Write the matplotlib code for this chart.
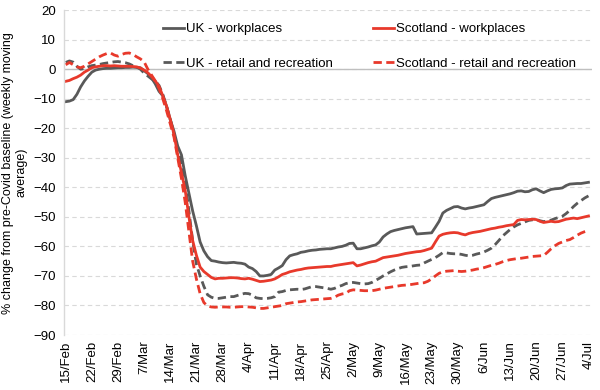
import numpy as np
import matplotlib
matplotlib.use("Agg")
import matplotlib.pyplot as plt
import pandas as pd

plt.rcParams['font.family'] = ['Liberation Sans', 'DejaVu Sans']

dates = pd.date_range('2020-02-15', '2020-07-04', freq='D')

uk_work = [-11, -10.8, -10.3, -8.5, -6, -4, -2.4, -1, -0.3, 0, 0.2, 0.3, 0.3, 0.4, 0.5, 0.5, 0.6, 0.6, 0.7, 0.6,
           0.5, -0.5, -1.5, -3, -5, -7.5, -9, -12.5, -17, -21, -26, -29, -36, -42, -48, -53, -58.5, -61.5, -63.5, -64.8,
           -65, -65.3, -65.5, -65.6, -65.5, -65.4, -65.6, -65.7, -66, -67, -67.5, -68.5, -70, -70, -69.8, -69.5, -68, -67.3, -66.5, -64.5,
           -63.2, -62.8, -62.5, -62, -61.8, -61.5, -61.3, -61.2, -61, -60.9, -60.8, -60.8, -60.5, -60.2, -60, -59.6, -59, -58.9, -60.8, -60.8,
           -60.5, -60.2, -59.8, -59.5, -58.5, -56.8, -55.8, -55, -54.6, -54.3, -54, -53.7, -53.5, -53.3, -55.8, -55.7, -55.6, -55.5, -55.4, -53.5,
           -51.5, -48.7, -47.8, -47.2, -46.6, -46.5, -47, -47.3, -47, -46.8, -46.5, -46.2, -45.9, -44.8, -43.8, -43.4, -43.1, -42.8, -42.5, -42.2,
           -41.8, -41.3, -41.2, -41.5, -41.4, -40.8, -40.5, -41.2, -41.8, -41.2, -40.7, -40.5, -40.4, -40.2, -39.4, -38.9, -38.8, -38.7, -38.7, -38.5,
           -38.3]

sc_work = [-4.1, -3.8, -3.2, -2.7, -2, -1, -0.3, 0.5, 0.8, 1, 1.2, 1.2, 1.1, 1.2, 1.1, 1, 1, 1, 0.9, 0.8,
           0.4, -0.3, -1.2, -2.5, -4, -5.8, -9, -12.5, -17, -22, -29, -35, -41, -50, -58, -63, -67, -68.5, -69.5, -70.5,
           -71, -70.8, -70.8, -70.7, -70.6, -70.6, -70.7, -70.9, -71, -70.8, -71.1, -71.5, -71.9, -71.8, -71.6, -71.4, -71, -70.3, -69.5, -69.1,
           -68.6, -68.3, -68, -67.8, -67.5, -67.3, -67.2, -67.1, -67, -66.9, -66.8, -66.8, -66.5, -66.3, -66.1, -65.9, -65.7, -65.5, -66.6, -66.3,
           -65.9, -65.5, -65.2, -65, -64.4, -63.8, -63.6, -63.4, -63.2, -63, -62.7, -62.4, -62.2, -62, -61.8, -61.7, -61.4, -61, -60.6, -58.5,
           -56.5, -55.9, -55.6, -55.4, -55.3, -55.4, -55.8, -56.1, -55.6, -55.3, -55.1, -54.9, -54.6, -54.3, -54, -53.8, -53.5, -53.3, -53, -52.8,
           -52.6, -51.2, -50.9, -51, -50.9, -50.8, -50.9, -51.5, -51.9, -51.7, -51.5, -51.7, -51.6, -51.2, -50.8, -50.6, -50.4, -50.6, -50.3, -50,
           -49.7]

uk_retail = [2.3, 2.8, 2.4, 1, 0, 0.2, 0.8, 1.2, 1.4, 1.6, 1.9, 2.1, 2.3, 2.5, 2.6, 2.4, 2.2, 1.8, 1.2, 0.7,
             0, -1.3, -2.3, -3.3, -4, -5.5, -8.5, -12.5, -17, -22, -27, -32, -38, -48, -58, -66, -70, -73.5, -76.4, -77.2,
             -77.6, -77.6, -77.4, -77.2, -77, -77, -76.6, -76.2, -75.9, -76, -76.5, -77.4, -77.6, -77.7, -77.6, -77.4, -77, -75.5, -75.3, -74.9,
             -74.7, -74.6, -74.5, -74.6, -74.4, -74, -73.6, -73.6, -73.8, -74, -74.2, -74.5, -74.2, -73.6, -73.2, -72.6, -72.3, -72.2, -72.4, -72.6,
             -72.7, -72.6, -72.2, -71.5, -70.8, -70, -69.3, -68.6, -68, -67.5, -67.1, -66.9, -66.8, -66.6, -66.4, -66.3, -65.6, -65, -64.4, -63.8,
             -63, -62.1, -62.2, -62.4, -62.5, -62.5, -62.7, -63, -63.2, -63, -62.6, -62.3, -61.9, -61.3, -60.6, -59.4, -58, -56.5, -55.4, -54.3,
             -53.4, -52.7, -52.2, -51.7, -51.2, -51, -50.9, -51.3, -51.6, -51.4, -51.1, -50.6, -50.2, -49.8, -48.9, -47.8, -46.5, -45.4, -44.5, -43.6,
             -42.9]

sc_retail = [1.5, 2.3, 1.5, 0.8, 0.5, 1, 1.8, 2.6, 3.4, 4.2, 4.8, 5.3, 5.5, 4.8, 4.4, 5, 5.4, 5.5, 5, 4.2,
             3.5, 2.5, 0, -2, -4, -6.5, -10, -14, -18.5, -23, -30, -37, -45, -55, -65, -71, -76, -79, -80.2, -80.5,
             -80.6, -80.5, -80.5, -80.5, -80.6, -80.6, -80.5, -80.4, -80.4, -80.5, -80.6, -80.8, -81, -81, -80.8, -80.6, -80.4, -80.2, -80, -79.4,
             -79.2, -79, -78.8, -78.7, -78.5, -78.3, -78.1, -78, -77.9, -77.8, -77.7, -77.6, -77.2, -76.5, -76.1, -75.9, -75, -74.7, -74.8, -74.9,
             -75, -75, -75, -74.8, -74.5, -74.2, -74, -73.8, -73.6, -73.4, -73.2, -73.1, -73, -72.8, -72.6, -72.4, -72.3, -71.8, -71, -70,
             -69.1, -68.6, -68.4, -68.3, -68.2, -68.4, -68.5, -68.4, -68.2, -68, -67.7, -67.5, -67.2, -66.8, -66.4, -66.1, -65.7, -65.2, -64.8, -64.5,
             -64.3, -64.1, -64, -63.8, -63.6, -63.4, -63.3, -63.2, -63.1, -62, -60.8, -59.8, -59, -58.5, -58, -57.7, -57, -56.2, -55.5, -55,
             -54.6]

tick_labels = ['15/Feb', '22/Feb', '29/Feb', '7/Mar', '14/Mar', '21/Mar', '28/Mar', '4/Apr', '11/Apr',
               '18/Apr', '25/Apr', '2/May', '9/May', '16/May', '23/May', '30/May', '6/Jun', '13/Jun',
               '20/Jun', '27/Jun', '4/Jul']

grey = '#595959'
red = '#e8392b'

fig = plt.figure(figsize=(6.0, 3.9), dpi=100)
ax = fig.add_axes([0.107, 0.141, 0.88, 0.833])

x = np.arange(len(dates))
ax.plot(x, uk_work, color=grey, lw=2.0, label='UK - workplaces')
ax.plot(x, uk_retail, color=grey, lw=2.0, ls=(0, (3, 1.6)), label='UK - retail and recreation')
ax.plot(x, sc_work, color=red, lw=2.0, label='Scotland - workplaces')
ax.plot(x, sc_retail, color=red, lw=2.0, ls=(0, (3, 1.6)), label='Scotland - retail and recreation')

ax.set_ylim(-90, 20)
ax.set_xlim(-0.4, 141)
ax.set_yticks(np.arange(-90, 21, 10))
ax.set_xticks(x[::7])
ax.set_xticklabels(tick_labels, rotation=90, fontsize=9.5)
ax.tick_params(axis='y', labelsize=9.5, length=0, pad=6)
ax.tick_params(axis='x', length=0, pad=4)

ax.yaxis.grid(True, color='#d9d9d9', ls=(0, (4, 3)), lw=0.8)
ax.axhline(0, color='#bfbfbf', lw=1.0, zorder=1)
ax.set_axisbelow(True)
for s in ['top', 'right', 'bottom']:
    ax.spines[s].set_visible(False)
ax.spines['left'].set_color('#d9d9d9')
ax.spines['left'].set_linewidth(1.0)

ax.set_ylabel('% change from pre-Covid baseline (weekly moving\naverage)', fontsize=9, labelpad=4)

ax.legend(ncol=2, frameon=False, fontsize=9.5, loc='upper left', bbox_to_anchor=(0.165, 0.997),
          handlelength=1.6, handletextpad=0.15, labelspacing=1.7, columnspacing=3.0)

fig.savefig('out.png', dpi=100)
